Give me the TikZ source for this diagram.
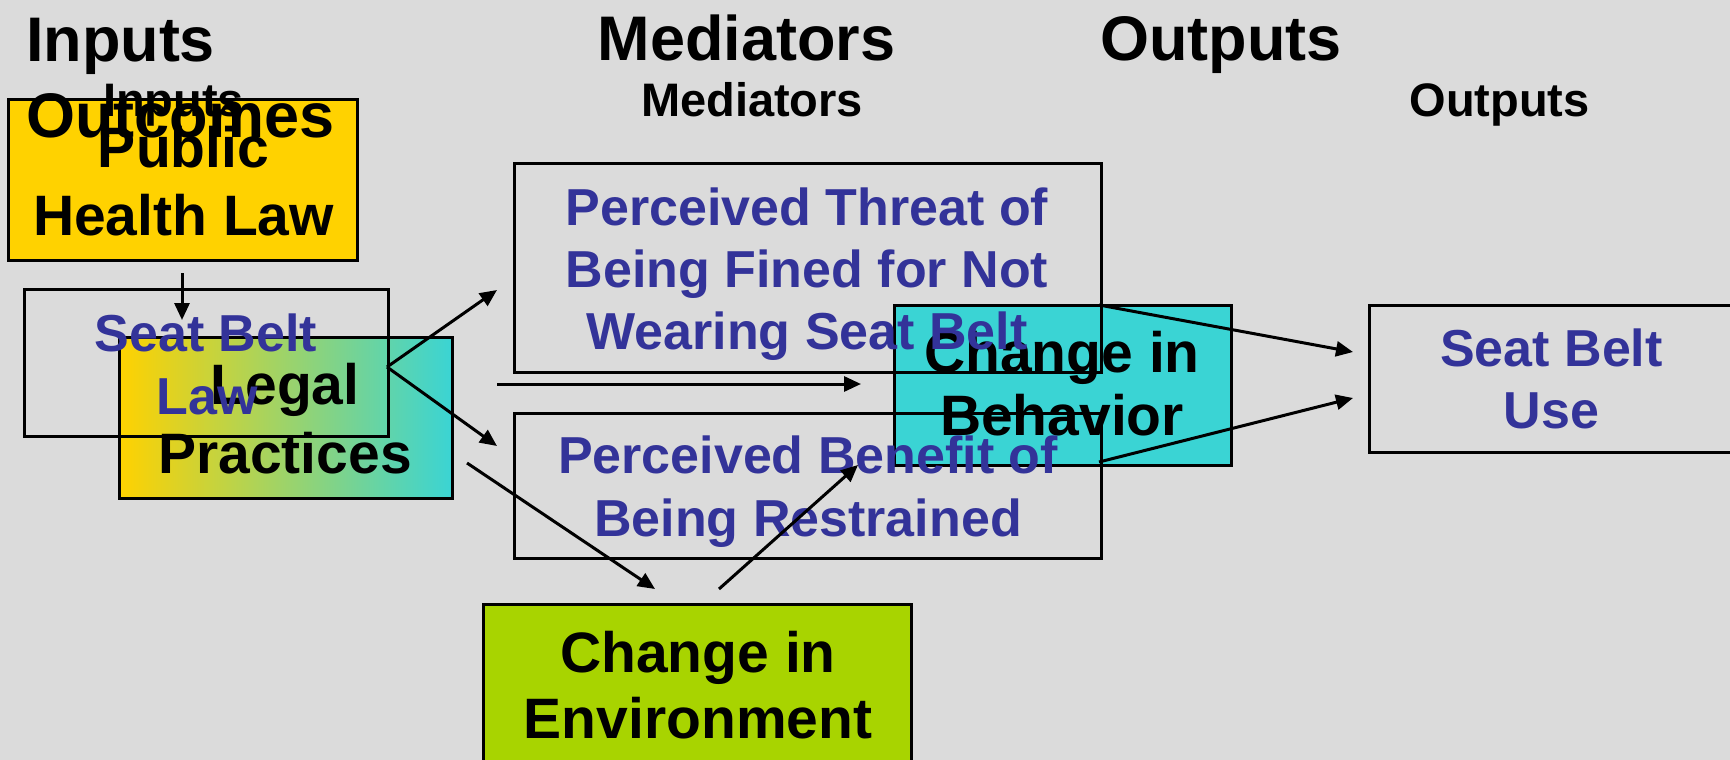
\documentclass[tikz,border=0pt]{standalone}
\usepackage{fontspec}
\setmainfont{Liberation Sans}
\usetikzlibrary{arrows.meta}
\definecolor{bgc}{HTML}{DBDBDB}
\definecolor{gold}{HTML}{FFD200}
\definecolor{teal2}{HTML}{3AD4D4}
\definecolor{lime2}{HTML}{A8D400}
\definecolor{navy2}{HTML}{333399}
\tikzset{
  panel/.style={draw=black, line width=2.8pt, inner sep=0pt, anchor=north west},
  big/.style={font=\fontsize{63}{63}\selectfont\bfseries, anchor=base, inner sep=0pt},
  head/.style={font=\fontsize{47}{47}\selectfont\bfseries, anchor=base, inner sep=0pt},
  blk/.style={font=\fontsize{57}{57}\selectfont\bfseries, anchor=base, inner sep=0pt, text=black},
  blu/.style={font=\fontsize{52}{52}\selectfont\bfseries, anchor=base, inner sep=0pt, text=navy2},
  arr/.style={line width=3pt, -{Triangle[length=17pt,width=15pt]}},
}
\begin{document}
\begin{tikzpicture}[x=1pt,y=-1pt]
\fill[bgc] (0,0) rectangle (1730,760);
\useasboundingbox (0,0) rectangle (1730,760);

% column headings
\node[big] (hin) at (120.5,62) {Inputs};
\node[big] (hmed) at (746.5,61) {Mediators};
\node[big] (hout) at (1221,61) {Outputs};

% public health law
\node[panel, fill=gold, minimum width=349pt, minimum height=161pt] (phl) at (7,98) {};
\node[blk] (phl1) at (183.5,167) {Public};
\node[blk] (phl2) at (183.5,235) {Health Law};

\node[head] (sin) at (173.5,117) {Inputs};
\node[head] (smed) at (752,117) {Mediators};
\node[head] (sout) at (1499.5,117) {Outputs};
\node[big] (hoc) at (180.5,137) {Outcomes};

% legal practices
\node[panel, left color=gold, right color=teal2, minimum width=333pt, minimum height=161pt] (lp) at (118,336) {};
\node[blk] (lp1) at (285,404) {Legal};
\node[blk] (lp2) at (285,473) {Practices};

% seat belt law
\node[panel, minimum width=364pt, minimum height=147pt] (sbl) at (23,288) {};
\node[blu] (sbl1) at (206,351) {Seat Belt};
\node[blu] (sbl2) at (207,414) {Law};

% change in behavior
\node[panel, fill=teal2, minimum width=337pt, minimum height=160pt] (beh) at (893,304) {};
\node[blk] (beh1) at (1062,372) {Change in};
\node[blk] (beh2) at (1062,435) {Behavior};

% mediators
\node[panel, minimum width=587pt, minimum height=209pt] (thr) at (513,162) {};
\node[blu] (thr1) at (807,225) {Perceived Threat of};
\node[blu] (thr2) at (807,287) {Being Fined for Not};
\node[blu] (thr3) at (807,349) {Wearing Seat Belt};

\node[panel, minimum width=587pt, minimum height=145pt] (ben) at (513,412) {};
\node[blu] (ben1) at (808,473) {Perceived Benefit of};
\node[blu] (ben2) at (808,536) {Being Restrained};

% output
\node[panel, minimum width=367pt, minimum height=147pt] (sbu) at (1368,304) {};
\node[blu] (sbu1) at (1551.5,366) {Seat Belt};
\node[blu] (sbu2) at (1551.5,428) {Use};

% change in environment
\node[panel, fill=lime2, minimum width=428pt, minimum height=164pt] (env) at (482,603) {};
\node[blk] (env1) at (698,672) {Change in};
\node[blk] (env2) at (698,738) {Environment};

% connector end points
\coordinate (p1s) at (182,273);
\coordinate (p1e) at (182,320);
\coordinate (p2s) at (387,367);
\coordinate (p2e) at (497,290);
\coordinate (p3e) at (497,446);
\coordinate (p4s) at (497,384);
\coordinate (p4e) at (861,384);
\coordinate (p5s) at (467,463);
\coordinate (p5e) at (655,589);
\coordinate (p6s) at (719,589);
\coordinate (p6e) at (858,465);
\coordinate (p7s) at (1099,305);
\coordinate (p7e) at (1353,352);
\coordinate (p8s) at (1099,462);
\coordinate (p8e) at (1353,398);

\draw[arr] (p1s) -- (p1e);
\draw[arr] (p2s) -- (p2e);
\draw[arr] (p2s) -- (p3e);
\draw[arr] (p4s) -- (p4e);
\draw[arr] (p5s) -- (p5e);
\draw[arr] (p6s) -- (p6e);
\draw[arr] (p7s) -- (p7e);
\draw[arr] (p8s) -- (p8e);
\end{tikzpicture}
\end{document}
